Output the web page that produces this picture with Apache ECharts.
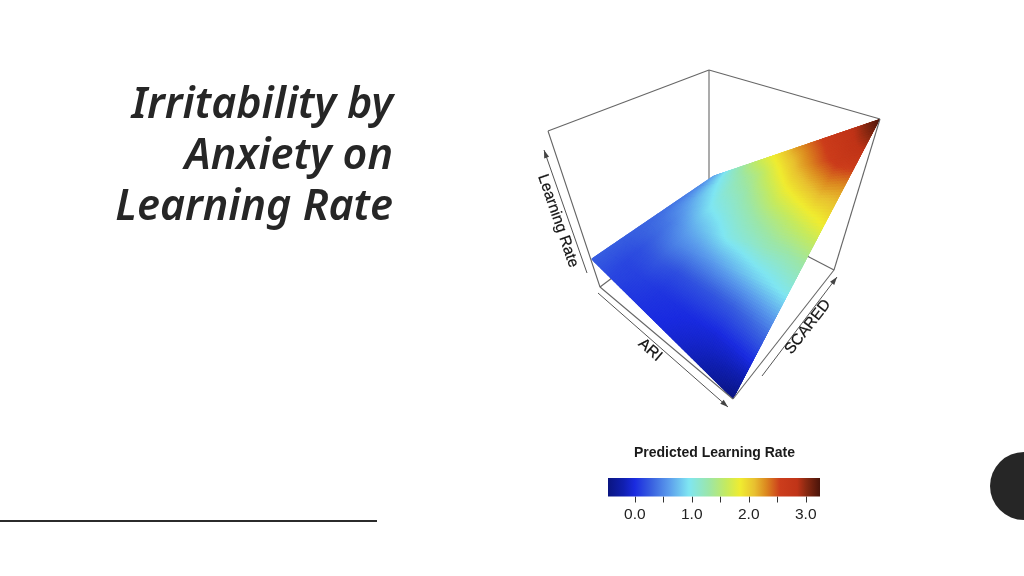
<!DOCTYPE html>
<html><head><meta charset="utf-8">
<style>html,body{margin:0;padding:0;background:#fff}#c{width:1024px;height:576px}</style>
<script src="https://cdn.jsdelivr.net/npm/echarts@6/dist/echarts.min.js"></script>
</head><body><div id="c"></div>
<script>
// ---------- data ----------
const titleLines = ['Irritability by', 'Anxiety on', 'Learning Rate'];
const axisNames = { z: 'Learning Rate', x: 'ARI', y: 'SCARED' };
const colorBarTitle = 'Predicted Learning Rate';
const colorBarTicks = [0, 0.5, 1, 1.5, 2, 2.5, 3];
const colorBarLabels = [0, 1, 2, 3];
const valueRange = [-0.47, 3.25];
// predicted learning rate, rows: ARI low -> high, columns: SCARED low -> high
const lrAri0 = [0.28, 0.28, 0.28, 0.30, 0.33, 0.38, 0.42, 0.50, 0.62];
const lrAri1 = [0.16, 0.15, 0.20, 0.32, 0.44, 0.62, 0.80, 0.95, 1.15];
const lrAri2 = [0.08, 0.12, 0.25, 0.46, 0.66, 0.90, 1.08, 1.25, 1.55];
const lrAri3 = [0.03, 0.06, 0.20, 0.52, 0.82, 1.05, 1.25, 1.50, 1.90];
const lrAri4 = [-0.02, 0.03, 0.22, 0.60, 1.00, 1.22, 1.50, 1.85, 2.25];
const lrAri5 = [-0.10, 0.00, 0.24, 0.70, 1.10, 1.40, 1.78, 2.18, 2.50];
const lrAri6 = [-0.20, -0.04, 0.28, 0.80, 1.22, 1.55, 2.00, 2.45, 2.75];
const lrAri7 = [-0.33, -0.04, 0.36, 0.90, 1.28, 1.72, 2.20, 2.68, 2.92];
const lrAri8 = [-0.47, -0.02, 0.45, 1.00, 1.38, 1.88, 2.25, 2.80, 3.25];
const surface = [lrAri0, lrAri1, lrAri2, lrAri3, lrAri4, lrAri5, lrAri6, lrAri7, lrAri8];
// colour ramp of the legend
const rampValues = [-0.47, -0.2, 0.0, 0.3, 0.6, 0.95, 1.3, 1.6, 1.85, 2.1, 2.3, 2.55, 2.85, 3.0, 3.25];
const rampColors = ['#0a1580', '#101fb0', '#1a2be0', '#3a62e0', '#5b9cec', '#7fe6f2', '#9ce6a8', '#c4ea60', '#f0ec30', '#e8c030', '#dc8a20', '#cc3d1c', '#c03418', '#8c2a12', '#4a140a'];

// ---------- scene layout (screen projection of the R persp box) ----------
const P = {
  topL: [548, 131], topB: [709, 70], topR: [880, 119],
  floorL: [600, 287], floorF: [733, 399], floorR: [834, 270], floorB: [709, 205],
  sL: [591, 259], sF: [733, 399], sR: [880, 119], sB: [713, 176]
};
const boxBack = [[P.topL, P.topB], [P.topB, P.topR], [P.topB, P.floorB], [P.floorL, P.floorB], [P.floorB, P.floorR]];
const boxFront = [[P.topL, P.floorL], [P.topR, P.floorR], [P.floorL, P.floorF], [P.floorF, P.floorR]];
const arrows = [
  { from: [587, 273], to: [544, 150] },
  { from: [598, 293], to: [728, 407] },
  { from: [762, 376], to: [837, 277] }
];
const axisTexts = [
  { text: axisNames.z, at: [558, 221], rot: 71 },
  { text: axisNames.x, at: [650, 350], rot: 41 },
  { text: axisNames.y, at: [808, 327], rot: -52 }
];
const SUB = 12;

function hex(c) { return [1, 3, 5].map(i => parseInt(c.substr(i, 2), 16)); }
function colorOf(v) {
  if (v <= rampValues[0]) return rampColors[0];
  for (let i = 1; i < rampValues.length; i++) {
    if (v <= rampValues[i]) {
      const t = (v - rampValues[i - 1]) / (rampValues[i] - rampValues[i - 1]);
      const a = hex(rampColors[i - 1]), b = hex(rampColors[i]);
      return `rgb(${a.map((x, k) => Math.round(x + (b[k] - x) * t)).join(',')})`;
    }
  }
  return rampColors[rampColors.length - 1];
}
function project(u, v) {
  const a = (p, q, t) => [p[0] + (q[0] - p[0]) * t, p[1] + (q[1] - p[1]) * t];
  return a(a(P.sL, P.sB, v), a(P.sF, P.sR, v), u);
}
const nA = surface.length - 1, nS = surface[0].length - 1;
const cells = [];
for (let i = 0; i < nA; i++) for (let j = 0; j < nS; j++) cells.push([i, j]);

function renderCell(params, api) {
  const i = api.value(0), j = api.value(1);
  const q = [surface[i][j], surface[i][j + 1], surface[i + 1][j], surface[i + 1][j + 1]];
  const children = [];
  const over = 1.5 / SUB;
  for (let a = 0; a < SUB; a++) for (let b = 0; b < SUB; b++) {
    const s0 = a / SUB, s1 = (a + 1) / SUB, t0 = b / SUB, t1 = (b + 1) / SUB;
    const sm = (s0 + s1) / 2, tm = (t0 + t1) / 2;
    const val = q[0] * (1 - sm) * (1 - tm) + q[1] * (1 - sm) * tm + q[2] * sm * (1 - tm) + q[3] * sm * tm;
    // each tile reaches under the next one so no seam shows between tiles
    const uEnd = Math.min(1, (i + s1 + over) / nA), vEnd = Math.min(1, (j + t1 + over) / nS);
    const u0 = (i + s0) / nA, v0 = (j + t0) / nS;
    const pts = [[u0, v0], [u0, vEnd], [uEnd, vEnd], [uEnd, v0]].map(([u, v]) => api.coord(project(u, v)));
    children.push({ type: 'polygon', shape: { points: pts }, style: { fill: colorOf(val) } });
  }
  return { type: 'group', children };
}
function lineEl(api, seg, w, col) {
  const a = api.coord(seg[0]), b = api.coord(seg[1]);
  return { type: 'line', shape: { x1: a[0], y1: a[1], x2: b[0], y2: b[1] }, style: { stroke: col, lineWidth: w, fill: null } };
}
function renderSegs(params, api) {
  const set = api.value(0) === 0 ? boxBack : boxFront;
  return { type: 'group', children: set.map(s => lineEl(api, s, 1.1, '#666')) };
}
function renderArrow(params, api) {
  const ar = arrows[api.value(0)];
  const a = api.coord(ar.from), b = api.coord(ar.to);
  const ang = Math.atan2(b[1] - a[1], b[0] - a[0]), L = 8, W = 2.6;
  const bx = b[0] - L * Math.cos(ang), by = b[1] - L * Math.sin(ang);
  const nx = -Math.sin(ang) * W, ny = Math.cos(ang) * W;
  return { type: 'group', children: [
    { type: 'line', shape: { x1: a[0], y1: a[1], x2: b[0], y2: b[1] }, style: { stroke: '#555', lineWidth: 1 } },
    { type: 'polygon', shape: { points: [b, [bx + nx, by + ny], [bx - nx, by - ny]] }, style: { fill: '#444' } }
  ] };
}
function renderAxisText(params, api) {
  const t = axisTexts[api.value(0)];
  const c = api.coord(t.at);
  return { type: 'text', x: c[0], y: c[1], rotation: -t.rot * Math.PI / 180,
    style: { text: t.text, align: 'center', verticalAlign: 'middle', fontFamily: '"Liberation Sans"', fontSize: 15.5, fill: '#111', stroke: '#111', lineWidth: 0.2 } };
}
function renderBar(params, api) {
  const l = api.coord([valueRange[0], 1]), r = api.coord([valueRange[1], 0]);
  const span = valueRange[1] - valueRange[0];
  return { type: 'rect', shape: { x: l[0], y: l[1], width: r[0] - l[0], height: r[1] - l[1] },
    style: { fill: new echarts.graphic.LinearGradient(0, 0, 1, 0,
      rampValues.map((v, k) => ({ offset: (v - valueRange[0]) / span, color: rampColors[k] }))) } };
}

const chart = echarts.init(document.getElementById('c'), null, { renderer: 'canvas' });
chart.setOption({
  animation: false,
  backgroundColor: '#ffffff',
  grid: [
    { left: 0, top: 0, width: 1024, height: 576 },
    { left: 608, top: 478, width: 212, height: 18.5 }
  ],
  xAxis: [
    { gridIndex: 0, type: 'value', min: 0, max: 1024, show: false },
    { gridIndex: 1, type: 'value', min: valueRange[0], max: valueRange[1], position: 'bottom',
      splitLine: { show: false }, axisLine: { show: false },
      axisTick: { show: true, length: 6, customValues: colorBarTicks, lineStyle: { color: '#333', width: 1 } },
      axisLabel: { customValues: colorBarLabels, margin: 10, fontFamily: '"Liberation Sans"', fontSize: 15.5, color: '#222', formatter: v => v.toFixed(1) } }
  ],
  yAxis: [
    { gridIndex: 0, type: 'value', min: 0, max: 576, inverse: true, show: false },
    { gridIndex: 1, type: 'value', min: 0, max: 1, show: false }
  ],
  series: [
    { type: 'custom', xAxisIndex: 0, yAxisIndex: 0, clip: false, silent: true, z: 1, data: [[0]], renderItem: renderSegs },
    { type: 'custom', xAxisIndex: 0, yAxisIndex: 0, clip: false, silent: true, z: 2, data: cells, renderItem: renderCell },
    { type: 'custom', xAxisIndex: 0, yAxisIndex: 0, clip: false, silent: true, z: 3, data: [[1]], renderItem: renderSegs },
    { type: 'custom', xAxisIndex: 0, yAxisIndex: 0, clip: false, silent: true, z: 3, data: arrows.map((_, i) => [i]), renderItem: renderArrow },
    { type: 'custom', xAxisIndex: 0, yAxisIndex: 0, clip: false, silent: true, z: 3, data: axisTexts.map((_, i) => [i]), renderItem: renderAxisText },
    { type: 'custom', xAxisIndex: 1, yAxisIndex: 1, clip: false, silent: true, z: 2, data: [[0]], renderItem: renderBar }
  ],
  graphic: [
    { type: 'text', x: 393, y: 80, style: { text: titleLines.join('\n'), align: 'right', verticalAlign: 'top', fontFamily: '"Noto Sans"', fontStyle: 'italic', fontWeight: 600, fontSize: 43, lineHeight: 51, fill: '#262626' } },
    { type: 'text', x: 714.5, y: 453.5, style: { text: colorBarTitle, align: 'center', verticalAlign: 'middle', fontFamily: '"Liberation Sans"', fontWeight: 'bold', fontSize: 14, fill: '#1a1a1a' } },
    { type: 'line', shape: { x1: 0, y1: 521, x2: 377, y2: 521 }, style: { stroke: '#2b2b2b', lineWidth: 2 } },
    { type: 'circle', shape: { cx: 1024, cy: 486, r: 34 }, style: { fill: '#262626' } }
  ]
});
</script></body></html>
